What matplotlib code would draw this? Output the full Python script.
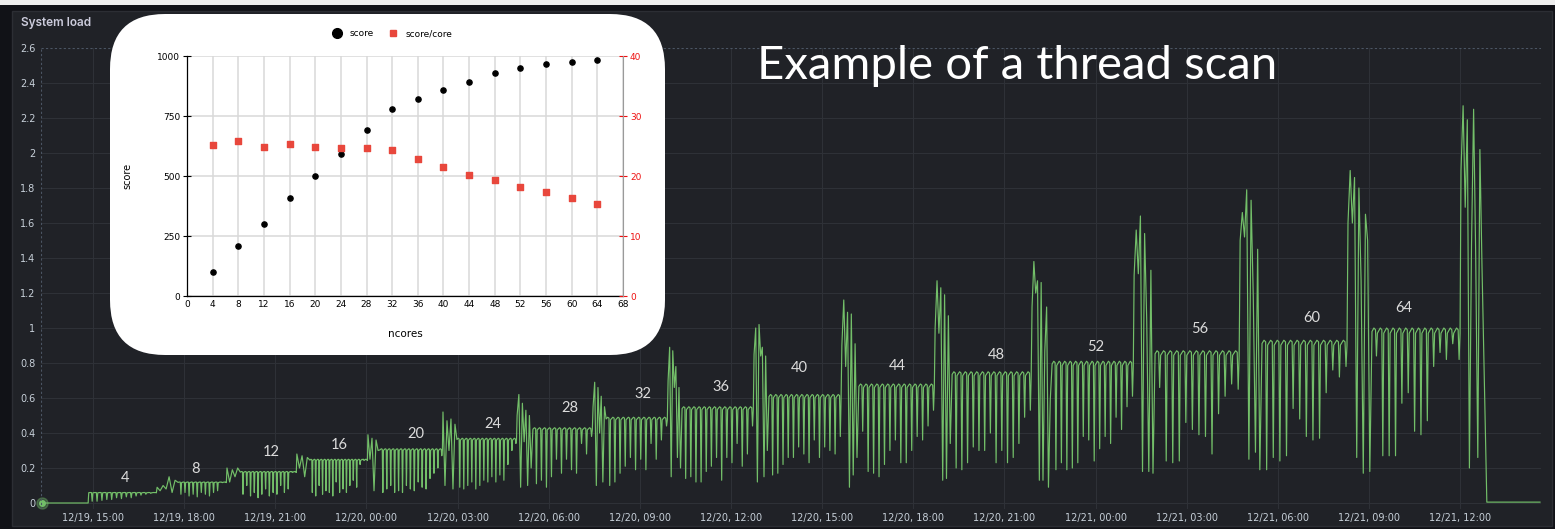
import numpy as np
import matplotlib
matplotlib.use("Agg")
import matplotlib.pyplot as plt
from matplotlib.patches import Rectangle, FancyBboxPatch
from matplotlib.transforms import IdentityTransform
from matplotlib.lines import Line2D

# ---- thread scan: score vs number of cores ----
ncores = [4, 8, 12, 16, 20, 24, 28, 32, 36, 40, 44, 48, 52, 56, 60, 64]
score = [100, 207, 298, 408, 498, 593, 690, 780, 820, 860, 890, 930, 948, 966, 976, 982]
score_per_core = [25.1, 25.9, 24.8, 25.4, 24.9, 24.7, 24.6, 24.4, 22.8, 21.5, 20.2, 19.4, 18.2, 17.3, 16.3, 15.4]

# ---- system load, hours since 12/19 00:00 ----
t_first = 13.32
head_start = [14.84, 17.11, 19.41, 21.71, 24.05, 26.52, 28.96, 31.46, 33.93, 36.76,
              39.65, 42.72, 45.91, 49.27, 52.76, 56.31]
plat_start = [14.86, 17.8, 19.85, 22.14, 24.45, 26.98, 29.48, 31.89, 34.39, 37.25,
              40.21, 43.28, 46.57, 49.96, 53.48, 57.10]
final_start = 60.03
final_end = 60.79
idle_start = 60.88
t_last = 62.63
idle_level = 0.005

seg_level = [0.06, 0.12, 0.18, 0.25, 0.31, 0.37, 0.43, 0.49, 0.55, 0.62, 0.68, 0.75,
             0.81, 0.87, 0.93, 1.00]
# load at the start of every run (ramp-up bursts)
seg_head = [
    [0.0],
    [0.09, 0.07, 0.1, 0.08, 0.15, 0.06, 0.13],
    [0.2, 0.12, 0.19, 0.15, 0.2],
    [0.28, 0.2, 0.27, 0.15, 0.26],
    [0.39, 0.25, 0.37, 0.07, 0.36, 0.3],
    [0.52, 0.1, 0.47, 0.3, 0.48, 0.08, 0.45],
    [0.5, 0.62, 0.09, 0.57, 0.35, 0.53, 0.1, 0.5, 0.2],
    [0.55, 0.69, 0.1, 0.66, 0.4, 0.61, 0.12, 0.55],
    [0.7, 0.89, 0.15, 0.87, 0.66, 0.78, 0.26, 0.66, 0.2],
    [0.85, 1.0, 0.12, 1.02, 0.84, 0.89, 0.15, 0.84, 0.3],
    [0.9, 1.16, 0.78, 1.09, 0.09, 1.08, 0.16, 0.91, 0.26],
    [1.0, 1.27, 0.97, 1.23, 0.13, 1.19, 0.14, 1.07, 0.34],
    [1.12, 1.38, 1.2, 1.27, 0.13, 1.26, 0.13, 0.87, 1.12, 0.09, 0.59],
    [1.3, 1.56, 1.31, 1.64, 0.18, 1.54, 1.05, 0.18, 1.33, 0.17],
    [1.5, 1.66, 1.52, 1.79, 0.25, 1.73, 1.18, 0.29, 1.45, 0.19],
    [1.6, 1.9, 1.6, 1.86, 0.26, 1.8, 1.27, 0.17, 1.65, 1.5, 0.18],
]
final_burst = [1.9, 2.27, 1.69, 2.19, 0.2, 1.47, 2.25, 1.41, 0.26, 2.02, 1.35]
# minima of the periodic drops during each run
seg_dips = [
    [0.01, 0.01, 0.015, 0.02, 0.02, 0.03, 0.025, 0.035, 0.03, 0.04, 0.045, 0.05, 0.055, 0.06],
    [0.05, 0.06, 0.04, 0.05, 0.035, 0.06, 0.05, 0.04, 0.06, 0.07, 0.12, 0.12],
    [0.05, 0.1, 0.04, 0.06, 0.03, 0.05, 0.08, 0.04, 0.06, 0.05, 0.1, 0.06, 0.08, 0.18, 0.18],
    [0.06, 0.04, 0.1, 0.05, 0.07, 0.06, 0.04, 0.12, 0.06, 0.08, 0.06, 0.1, 0.13, 0.09, 0.22, 0.25, 0.25],
    [0.06, 0.08, 0.1, 0.06, 0.07, 0.06, 0.1, 0.08, 0.07, 0.12, 0.09, 0.08, 0.14, 0.17, 0.2, 0.27],
    [0.09, 0.08, 0.1, 0.12, 0.08, 0.1, 0.13, 0.12, 0.15, 0.12, 0.16, 0.13, 0.22, 0.3, 0.34],
    [0.11, 0.13, 0.09, 0.15, 0.25, 0.17, 0.25, 0.19, 0.17, 0.34, 0.28, 0.38],
    [0.10, 0.12, 0.17, 0.21, 0.26, 0.19, 0.25, 0.19, 0.34, 0.25, 0.36, 0.44],
    [0.14, 0.15, 0.12, 0.12, 0.18, 0.21, 0.26, 0.13, 0.26, 0.23, 0.34, 0.21, 0.28, 0.44],
    [0.16, 0.17, 0.22, 0.26, 0.26, 0.32, 0.28, 0.23, 0.36, 0.26, 0.32, 0.30, 0.28, 0.38],
    [0.41, 0.18, 0.17, 0.15, 0.22, 0.30, 0.36, 0.23, 0.23, 0.30, 0.38, 0.36, 0.44, 0.53],
    [0.2, 0.19, 0.23, 0.32, 0.30, 0.30, 0.40, 0.23, 0.30, 0.23, 0.26, 0.34, 0.49, 0.53],
    [0.19, 0.23, 0.19, 0.20, 0.23, 0.38, 0.36, 0.24, 0.31, 0.38, 0.34, 0.49, 0.42, 0.55, 0.61],
    [0.66, 0.24, 0.23, 0.24, 0.46, 0.42, 0.39, 0.38, 0.28, 0.51, 0.61, 0.68, 0.65],
    [0.19, 0.26, 0.24, 0.27, 0.54, 0.48, 0.38, 0.36, 0.37, 0.63, 0.76, 0.72, 0.78],
    [0.84, 0.27, 0.27, 0.27, 0.57, 0.63, 0.41, 0.39, 0.47, 0.78, 0.86, 0.82, 0.91, 0.82],
]

run_label_x = [16.05, 18.36, 20.86, 23.10, 25.63, 28.17, 30.70, 33.10, 35.67, 38.24,
               41.46, 44.72, 48.02, 51.44, 55.13, 58.15]
run_label_y = [0.143, 0.194, 0.291, 0.331, 0.394, 0.451, 0.543, 0.623, 0.663, 0.771,
               0.783, 0.846, 0.891, 0.994, 1.057, 1.114]

x_tick_hours = [15, 18, 21, 24, 27, 30, 33, 36, 39, 42, 45, 48, 51, 54, 57, 60]
x_tick_labels = ["12/19, 15:00", "12/19, 18:00", "12/19, 21:00", "12/20, 00:00",
                 "12/20, 03:00", "12/20, 06:00", "12/20, 09:00", "12/20, 12:00",
                 "12/20, 15:00", "12/20, 18:00", "12/20, 21:00", "12/21, 00:00",
                 "12/21, 03:00", "12/21, 06:00", "12/21, 09:00", "12/21, 12:00"]
y_ticks = [0, 0.2, 0.4, 0.6, 0.8, 1.0, 1.2, 1.4, 1.6, 1.8, 2.0, 2.2, 2.4, 2.6]
y_tick_labels = ["0", "0.2", "0.4", "0.6", "0.8", "1", "1.2", "1.4", "1.6", "1.8",
                 "2", "2.2", "2.4", "2.6"]

# build the load trace
tt = [t_first, head_start[0]]
vv = [0.0, 0.0]
plat_end = head_start[1:] + [final_start]
for k in range(len(ncores)):
    hv = seg_head[k]
    for j, val in enumerate(hv):
        tt.append(head_start[k] + (plat_start[k] - head_start[k]) * j / len(hv))
        vv.append(val)
    lv = seg_level[k]
    dips = seg_dips[k]
    step = (plat_end[k] - plat_start[k]) / len(dips)
    for j, d in enumerate(dips):
        a = plat_start[k] + j * step
        tt += [a, a + 0.3 * step, a + 0.55 * step, a + 0.7 * step, a + 0.85 * step]
        vv += [lv * 0.98, lv, lv * 0.99, d, lv * 0.97]
for j, val in enumerate(final_burst):
    tt.append(final_start + (final_end - final_start) * j / len(final_burst))
    vv.append(val)
tt += [idle_start, t_last]
vv += [idle_level, idle_level]

W, H = 1555, 529
fig = plt.figure(figsize=(W / 100, H / 100), dpi=100)
fig.patch.set_facecolor("#111217")

# dashboard chrome
fig.patches.append(Rectangle((0, H - 5), W, 5, transform=IdentityTransform(),
                             facecolor="#eeeeee", edgecolor="none", zorder=-2))
fig.patches.append(Rectangle((12, 3), 1540, 515, transform=IdentityTransform(),
                             facecolor="#202227", edgecolor="#2c2e34", lw=1, zorder=-1))

ax = fig.add_axes([41 / W, 20 / H, 1500 / W, 461 / H])
ax.set_facecolor("none")
ax.plot(tt, vv, color="#73bf69", lw=0.85)
ax.plot([t_first], [0], "o", ms=8, color="#73bf69", alpha=0.35, clip_on=False)
ax.plot([t_first], [0], "o", ms=4, color="#73bf69", clip_on=False)
ax.set_xlim(13.288, 62.663)
ax.set_ylim(-6 / 175, 2.6)
ax.set_xticks(x_tick_hours)
ax.set_xticklabels(x_tick_labels)
ax.set_yticks(y_ticks)
ax.set_yticklabels(y_tick_labels)
ax.tick_params(length=0, labelsize=7, labelcolor="#c7d0d9", pad=4)
ax.tick_params(axis="x", pad=3)
for s in ax.spines.values():
    s.set_visible(False)
ax.grid(True, color="#2e3137", lw=0.8)
ax.get_ygridlines()[-1].set_visible(False)
ax.axhline(2.6, color="#4b5563", lw=0.8, ls=(0, (2, 2)))
ax.axvline(13.288, color="#4b5563", lw=0.8, ls=(0, (2, 2)))
for lab, x, y in zip(ncores, run_label_x, run_label_y):
    ax.text(x, y, str(lab), ha="center", va="center", fontsize=10.5,
            color="#dcdcdc", family=["Lato", "DejaVu Sans"])

fig.text(21 / W, 1 - 23 / H, "System load", fontsize=8.5, color="#ccccdc",
         fontweight="semibold", family=["Inter", "DejaVu Sans"], va="center")
fig.text(757 / W, 1 - 66 / H, "Example of a thread scan", fontsize=34, color="white",
         family=["Lato", "DejaVu Sans"], va="center", zorder=5)

# inset with the benchmark score
fig.patches.append(FancyBboxPatch((110, H - 355), 555, 341,
                                  boxstyle="round,pad=0,rounding_size=55",
                                  transform=IdentityTransform(),
                                  facecolor="white", edgecolor="none", zorder=2))
ins = fig.add_axes([187 / W, (H - 296) / H, 436 / W, 240 / H], zorder=3)
ins.set_facecolor("white")
ins.scatter(ncores, score, s=14, color="black", zorder=3)
ins.set_xlim(0, 68)
ins.set_ylim(0, 1000)
ins.set_xticks(range(0, 69, 4))
ins.set_yticks([0, 250, 500, 750, 1000])
ins.grid(True, color="#d9d9d9", lw=1.1)
ins.set_axisbelow(True)
ins.tick_params(axis="x", length=0, labelsize=6.5, pad=3)
ins.tick_params(axis="y", direction="inout", length=6, width=0.8, labelsize=6.5, pad=2)
ins.spines["top"].set_visible(False)
ins.spines["right"].set_visible(False)
ins.spines["left"].set_linewidth(0.9)
ins.spines["bottom"].set_linewidth(0.9)
ins.set_ylabel("score", fontsize=7, labelpad=18)
ins.set_xlabel("ncores", fontsize=7.5, labelpad=14)

ins2 = ins.twinx()
ins2.set_zorder(4)
ins2.scatter(ncores, score_per_core, s=14, marker="s", color="#e8473c", zorder=3)
ins2.set_ylim(0, 40)
ins2.set_yticks([0, 10, 20, 30, 40])
ins2.tick_params(axis="y", direction="inout", length=6, width=0.8, colors="#ee1111",
                 labelsize=6.5, pad=2)
for side in ["top", "left", "bottom"]:
    ins2.spines[side].set_visible(False)
ins2.spines["right"].set_color("#9a9a9a")

handles = [Line2D([], [], ls="none", marker="o", ms=7, color="black"),
           Line2D([], [], ls="none", marker="s", ms=5, color="#e8473c")]
ins.legend(handles, ["score", "score/core"], loc="center", bbox_to_anchor=(0.466, 1.092),
           ncol=2, frameon=False, fontsize=6.5, handletextpad=0.3, columnspacing=1.2)

fig.savefig("out.png", dpi=100, facecolor=fig.get_facecolor())
